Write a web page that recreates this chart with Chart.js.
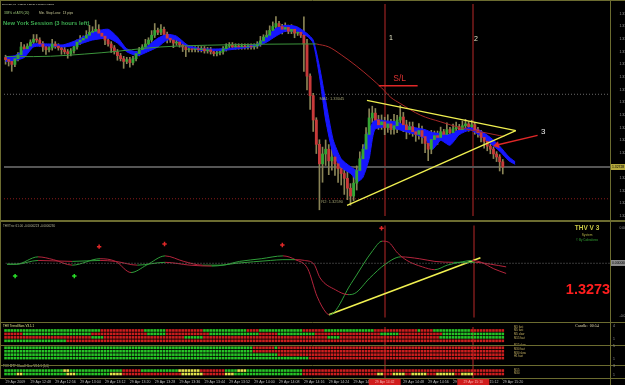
<!DOCTYPE html>
<html lang="en">
<head>
<meta charset="utf-8">
<title>EURUSD M1 - THV V3</title>
<script src="https://cdn.jsdelivr.net/npm/chart.js@4.4.1/dist/chart.umd.min.js"></script>
<style>
  html, body { margin: 0; padding: 0; background: #000; }
  #screen { position: relative; width: 625px; height: 385px; overflow: hidden; background: #000; }
  #screen canvas { position: absolute; left: 0; }
  #mainChart { top: 0; }
  #oscChart { top: 220px; }
  #heatChart { top: 323px; }
</style>
</head>
<body>
<div id="screen">
  <canvas id="mainChart" width="625" height="220"></canvas>
  <canvas id="oscChart" width="625" height="103"></canvas>
  <canvas id="heatChart" width="625" height="62"></canvas>
</div>
<script>
// ===== price data: EURUSD M1, 29 Apr 2009 12:40 - 15:20 (one value per candle) =====
const firstOpen = 1.33205;
const closes = [
  1.33196, 1.33188, 1.33175, 1.33200, 1.33217, 1.33251, 1.33243, 1.33255, 1.33272, 1.33285,
  1.33281, 1.33264, 1.33251, 1.33239, 1.33247, 1.33264, 1.33255, 1.33247, 1.33239, 1.33230,
  1.33222, 1.33234, 1.33251, 1.33272, 1.33281, 1.33289, 1.33302, 1.33315, 1.33319, 1.33328,
  1.33311, 1.33298, 1.33281, 1.33264, 1.33247, 1.33230, 1.33213, 1.33200, 1.33188, 1.33196,
  1.33183, 1.33200, 1.33222, 1.33239, 1.33251, 1.33264, 1.33281, 1.33302, 1.33323, 1.33315,
  1.33328, 1.33306, 1.33289, 1.33281, 1.33268, 1.33272, 1.33260, 1.33251, 1.33239, 1.33243,
  1.33239, 1.33243, 1.33239, 1.33243, 1.33234, 1.33239, 1.33230, 1.33222, 1.33226, 1.33230,
  1.33243, 1.33255, 1.33260, 1.33251, 1.33255, 1.33251, 1.33255, 1.33251, 1.33255, 1.33251,
  1.33255, 1.33264, 1.33277, 1.33294, 1.33302, 1.33323, 1.33340, 1.33353, 1.33340, 1.33328,
  1.33336, 1.33319, 1.33328, 1.33311, 1.33315, 1.33302, 1.33264, 1.33124, 1.33039, 1.32933,
  1.32827, 1.32742, 1.32785, 1.32806, 1.32755, 1.32772, 1.32742, 1.32721, 1.32700, 1.32679,
  1.32636, 1.32602, 1.32658, 1.32713, 1.32764, 1.32806, 1.32870, 1.32942, 1.32963, 1.32933,
  1.32912, 1.32925, 1.32899, 1.32916, 1.32891, 1.32908, 1.32933, 1.32946, 1.32912, 1.32891,
  1.32904, 1.32882, 1.32870, 1.32887, 1.32861, 1.32831, 1.32806, 1.32848, 1.32865, 1.32857,
  1.32882, 1.32870, 1.32891, 1.32878, 1.32895, 1.32904, 1.32891, 1.32908, 1.32916, 1.32904,
  1.32912, 1.32891, 1.32878, 1.32857, 1.32840, 1.32819, 1.32806, 1.32785, 1.32772, 1.32751,
  1.32728
];
// wick length beyond the body, in pips
const wickUp = [
  1,1,1,1,1,2,1,1,1,2, 2,1,1,1,1,2,1,1,1,1, 1,1,2,1,2,1,2,3,2,4, 2,1,1,1,1,1,1,1,1,1,
  1,1,1,1,1,2,1,2,3,1, 2,1,1,1,1,1,1,1,1,1, 1,1,1,1,1,1,1,1,1,1, 1,1,1,1,1,1,1,1,1,1,
  1,1,2,1,2,2,2,3,1,1, 2,1,2,1,1,1,8,2,1,1, 1,2,3,4,2,6,3,2,3,2, 3,2,3,2,3,2,3,4,3,2,
  2,3,2,4,2,5,2,5,2,2, 2,2,1,3,2,1,2,4,2,2, 2,1,3,1,2,2,1,2,2,1, 2,1,1,1,1,1,1,1,1,1,
  1
];
const wickDn = [
  2,2,3,1,1,1,1,1,1,1, 1,1,2,2,1,1,1,1,2,1, 2,1,1,1,1,1,1,1,1,1, 1,1,2,1,2,1,2,1,3,1,
  2,1,1,1,1,1,1,1,1,1, 1,1,2,1,2,1,1,2,3,1, 1,1,1,1,1,1,1,1,1,1, 1,1,1,1,1,1,1,1,1,1,
  1,1,1,1,1,1,1,1,1,2, 1,1,1,2,1,1,12,6,6,5, 4,20,8,5,6,4,5,6,5,7, 5,4,2,3,2,2,2,2,2,3,
  2,2,3,2,2,2,3,2,3,4, 2,2,3,2,3,4,5,2,2,3, 1,2,1,2,1,1,2,1,1,2, 1,2,2,2,3,2,2,2,2,4,
  3
];
const PIP = 0.0001;

const priceTicks = [1.33395, 1.33340, 1.33285, 1.33230, 1.33175, 1.33120, 1.33065, 1.33010,
  1.32955, 1.32900, 1.32845, 1.32790, 1.32680, 1.32625, 1.32570, 1.32515];
const maLevel = 1.33045;
const s2Level = 1.32590;
const bidPrice = 1.32728;

// blue cloud (two edges), read at candle index positions
const cloudIdx = [0, 3, 6, 9, 14, 18.5, 23, 28, 33, 36, 39, 42.5, 45.7, 49, 52, 55, 58.5, 63, 70, 76,
  81, 84, 87, 90, 93.6, 97, 99, 101, 103, 105.4, 108, 111, 113.4, 115, 117, 118.8, 122.4, 125.6, 128.8, 132,
  135, 137.4, 140, 143, 146, 149.5, 152.7, 156, 159, 162, 164];
const cloudTop = [1.33209, 1.33213, 1.33239, 1.33264, 1.33264, 1.33260, 1.33281, 1.33315, 1.33328, 1.33294,
  1.33243, 1.33230, 1.33255, 1.33289, 1.33306, 1.33298, 1.33260, 1.33243, 1.33243, 1.33251,
  1.33264, 1.33298, 1.33332, 1.33345, 1.33340, 1.33310, 1.33281, 1.33167, 1.33018, 1.32848,
  1.32764, 1.32730, 1.32713, 1.32798, 1.32891, 1.32933, 1.32929, 1.32925, 1.32908, 1.32899,
  1.32891, 1.32878, 1.32874, 1.32870, 1.32891, 1.32899, 1.32887, 1.32857, 1.32819, 1.32772, 1.32751];
const cloudBot = [1.33188, 1.33192, 1.33205, 1.33251, 1.33255, 1.33251, 1.33260, 1.33281, 1.33289, 1.33268,
  1.33230, 1.33213, 1.33230, 1.33251, 1.33281, 1.33281, 1.33251, 1.33236, 1.33236, 1.33245,
  1.33255, 1.33272, 1.33298, 1.33319, 1.33319, 1.33298, 1.33268, 1.33124, 1.32933, 1.32785,
  1.32726, 1.32700, 1.32666, 1.32683, 1.32764, 1.32891, 1.32904, 1.32895, 1.32882, 1.32870,
  1.32852, 1.32806, 1.32844, 1.32823, 1.32869, 1.32889, 1.32865, 1.32831, 1.32797, 1.32755, 1.32740];

// slow moving average: rising part (green) and falling part (red)
const maUpIdx = [0, 9, 31, 50, 70, 95, 100];
const maUp = [1.33209, 1.33209, 1.33226, 1.33251, 1.33260, 1.33264, 1.33264];
const maDownIdx = [100, 104, 108, 113, 117.6, 121, 124, 127, 133.5, 140, 146.4, 152.7, 159, 160.5];
const maDown = [1.33264, 1.33251, 1.33217, 1.33167, 1.33115, 1.33073, 1.33031, 1.33005, 1.32954,
  1.32925, 1.32899, 1.32882, 1.32865, 1.32861];

// hand drawn objects: [candle index, price]
const triUpper = [[116.3, 1.33018], [164.2, 1.32887]];
const triLower = [[109.9, 1.32561], [164.2, 1.32887]];
const slLine = [[120.1, 1.33082], [132.6, 1.33082]];
const arrow3 = [[171.2, 1.32866], [158.1, 1.32824]];
const vLineIdx = [122, 150.5];
const vLineTimes = ['29 Apr 14:42', '29 Apr 15:10'];

// THV Trix oscillator
const fastIdx = [0, 3, 10, 15, 21, 30, 35, 40, 45, 51, 57, 63, 69, 75, 82, 89, 93, 97, 100, 103,
  104, 111, 118, 121, 123, 126, 129, 134, 138, 142, 146, 150, 153, 157, 161];
const fastVal = [-0.000006, -0.000006, 0.000041, 0.000023, -0.000012, 0.000029, 0.000012, -0.000059, -0.000012, 0.000047,
  0.000012, -0.000012, -0.000012, 0.000012, 0.000029, 0.000047, 0.000023, -0.000035, -0.000211, -0.000317,
  -0.000329, -0.000129, 0.000082, 0.000141, 0.000135, 0.000065, 0.000018, -0.000023, -0.000041, -0.000012,
  0.000006, 0.000018, 0.000006, -0.000035, -0.000065];
const slowIdx = [0, 3, 10, 21, 30, 35, 42, 51, 59, 66, 74, 85, 89, 93, 96, 99, 101, 106, 110, 112,
  117, 122, 127, 133, 138, 144, 151, 156, 161];
const slowVal = [-0.000006, -0.000006, 0.000018, 0.000012, 0.000018, 0.000012, -0.000012, 0.000006, -0.000012, -0.000018,
  0, 0.000018, 0.000023, 0.000023, 0.000018, -0.000006, -0.000094, -0.00017, -0.0002, -0.000194,
  -0.000094, -0.000006, 0.000041, 0.000029, 0.000012, 0.000006, 0.000006, -0.000006, -0.000023];
const sellIdx = [29.7, 50.8, 88.8, 120.8];
const sellVal = [0.000106, 0.000123, 0.000117, 0.000223];
const buyIdx = [2.6, 21.7];
const buyVal = [-0.000082, -0.000082];
const oscTrend = [[103.8, -0.000329], [152.7, 0.000035]];
const oscTicks = [0.000223, -0.000335];

// MTF trend bars, run-length per row: g = up, r = down, y = flat
const heatRows = [
  [['g', 31], ['r', 14], ['g', 7], ['r', 12], ['g', 14], ['r', 4], ['g', 14], ['r', 7], ['g', 16], ['r', 14], ['g', 1], ['r', 4], ['g', 12], ['r', 11]],
  [['r', 6], ['g', 22], ['r', 18], ['g', 6], ['r', 14], ['g', 16], ['r', 6], ['g', 12], ['r', 21], ['g', 6], ['r', 14], ['g', 20]],
  [['r', 28], ['g', 4], ['r', 26], ['g', 6], ['r', 40], ['g', 4], ['r', 32], ['g', 21]],
  [['g', 20], ['r', 141]],
  [['g', 80], ['r', 7], ['g', 1], ['r', 73]],
  [['g', 80], ['r', 81]],
  [['g', 88], ['r', 73]],
  [['g', 98], ['r', 63]],
  [['g', 19], ['y', 2], ['g', 17], ['r', 6], ['g', 12], ['y', 7], ['r', 8], ['g', 4], ['y', 3], ['g', 18], ['r', 65]],
  [['g', 4], ['y', 2], ['g', 14], ['y', 3], ['g', 11], ['y', 4], ['r', 19], ['y', 7], ['r', 7], ['y', 3], ['g', 22],
   ['r', 24], ['y', 2], ['r', 3], ['y', 4], ['r', 2], ['y', 5], ['r', 3], ['y', 6], ['r', 2], ['y', 4], ['r', 10]]
];
const heatLabels = ['M1 fast', 'M5 fast', 'M5 slow', 'M15 fast', 'M15 slow', 'M30 fast', 'M30 slow', 'H1 fast', 'M15', 'M30'];

const timeLabels = ['29 Apr 2009', '29 Apr 12:48', '29 Apr 12:56', '29 Apr 13:04', '29 Apr 13:12', '29 Apr 13:20',
  '29 Apr 13:28', '29 Apr 13:36', '29 Apr 13:44', '29 Apr 13:52', '29 Apr 14:00', '29 Apr 14:08', '29 Apr 14:16',
  '29 Apr 14:24', '29 Apr 14:32', '29 Apr 14:40', '29 Apr 14:48', '29 Apr 14:56', '29 Apr 15:04', '29 Apr 15:12',
  '29 Apr 15:20'];

// ===== styles =====
const FONT = "'Liberation Sans', Arial, sans-serif";
const COL = {
  olive: '#6c6c30', bull: '#34a534', bear: '#c83a3a', wick: '#8a8456',
  cloud: '#1616ff', maUp: '#3c963c', maDown: '#a82828',
  oscUp: '#2f9e3a', oscDown: '#b4243c', yellow: '#f0f050', vline: '#5c1414'
};
const heatColors = { g: '#26c426', r: '#cc1e1e', y: '#e4e44c' };
const X_MIN = -0.5, X_MAX = 194.5;

Chart.defaults.font.family = FONT;

// ===== helpers =====
const pts = (xs, ys) => xs.map((x, i) => ({ x, y: ys[i] }));
const pairs = arr => arr.map(([x, y]) => ({ x, y }));
const flat = v => [{ x: X_MIN, y: v }, { x: X_MAX, y: v }];
const expand = rle => rle.flatMap(([k, n]) => Array(n).fill(k));

function strokeLine(ctx, x1, y1, x2, y2) {
  ctx.beginPath(); ctx.moveTo(x1, y1); ctx.lineTo(x2, y2); ctx.stroke();
}

function rightAxis(min, max, ticks, fmt) {
  return {
    type: 'linear', position: 'right', min, max,
    afterBuildTicks: s => { s.ticks = ticks.map(v => ({ value: v })); },
    afterFit: s => { s.width = 15; s.paddingTop = 0; s.paddingBottom = 0; },
    ticks: { font: { size: 3.4 }, color: '#9c9c9c', padding: 1.5, autoSkip: false, callback: fmt },
    grid: { display: false },
    border: { display: false }
  };
}

// バーチャートでも両端に余白を入れない
const hiddenX = { type: 'linear', min: X_MIN, max: X_MAX, offset: false, display: false };

// 縦線 (1, 2)
const vLinePlugin = {
  id: 'vlines',
  beforeDatasetsDraw(chart) {
    const { ctx, chartArea: a, scales: { x } } = chart;
    ctx.save();
    ctx.strokeStyle = COL.vline;
    ctx.lineWidth = 2;
    vLineIdx.forEach(v => {
      const px = Math.round(x.getPixelForValue(v));
      strokeLine(ctx, px, a.top, px, a.bottom);
    });
    ctx.restore();
  }
};

// テキスト描画
function notes(items) {
  return {
    id: 'notes',
    afterDatasetsDraw(chart) {
      const { ctx, scales } = chart;
      ctx.save();
      ctx.textBaseline = 'middle';
      items.forEach(n => {
        const px = n.onData ? scales.x.getPixelForValue(n.x) : n.x;
        const py = n.onData ? scales.y.getPixelForValue(n.y) : n.y;
        ctx.font = (n.bold ? 'bold ' : '') + n.size + 'px ' + (n.family || FONT);
        ctx.fillStyle = n.color;
        ctx.textAlign = n.align || 'left';
        ctx.fillText(n.text, px, py);
      });
      ctx.restore();
    }
  };
}

// ===== main price panel =====
const opens = closes.map((c, i) => (i === 0 ? firstOpen : closes[i - 1]));
const bodies = closes.map((c, i) => ({ x: i, y: [opens[i], c] }));
const wicks = closes.map((c, i) => ({
  x: i,
  y: [Math.min(opens[i], c) - wickDn[i] * PIP, Math.max(opens[i], c) + wickUp[i] * PIP]
}));
const bodyColors = closes.map((c, i) => (c >= opens[i] ? COL.bull : COL.bear));

const mainDecor = {
  id: 'mainDecor',
  afterDraw(chart) {
    const { ctx, chartArea: a, scales: { y } } = chart;
    ctx.save();
    ctx.strokeStyle = COL.olive;
    ctx.lineWidth = 1;
    strokeLine(ctx, 0, 0.5, chart.width, 0.5);
    strokeLine(ctx, 0.5, 0, 0.5, chart.height);
    strokeLine(ctx, a.right + 0.5, 0, a.right + 0.5, chart.height);
    // 現在値ラベル
    const py = Math.round(y.getPixelForValue(bidPrice));
    ctx.fillStyle = '#b4a83c';
    ctx.fillRect(a.right + 1, py - 3, 14, 6);
    ctx.fillStyle = '#000';
    ctx.font = '3.4px ' + FONT;
    ctx.textBaseline = 'middle';
    ctx.fillText(bidPrice.toFixed(5), a.right + 2, py);
    ctx.restore();
  }
};

const mainNotes = [
  { text: 'EURUSD,M1  1.32737 1.32737 1.32728 1.32728', x: 2, y: 4, size: 2.4, color: '#c8c8b4' },
  { text: '338% of ATR (20)', x: 4, y: 13, size: 3.2, color: '#9cc878' },
  { text: 'Min. Stop Loss:  13 pips', x: 39, y: 13, size: 3.2, color: '#c8c896' },
  { text: 'New York Session (3 hours left)', x: 3, y: 23, size: 5.8, bold: true, color: '#3caa50' },
  { text: 'MA1: 1.33045', onData: true, x: 101, y: 1.33027, size: 4, color: '#a0a070' },
  { text: 'R2: 1.32590', onData: true, x: 101.6, y: 1.32575, size: 4, color: '#a0a070' },
  { text: '1', onData: true, x: 124, y: 1.33289, size: 7, color: '#e6e6c8', align: 'center' },
  { text: '2', onData: true, x: 151.4, y: 1.33285, size: 7, color: '#e6e6c8', align: 'center' },
  { text: '3', onData: true, x: 173, y: 1.32880, size: 8, color: '#f0f0f0', align: 'center' },
  { text: 'S/L', onData: true, x: 126.8, y: 1.33115, size: 8.5, color: '#dc3232', align: 'center' }
];

new Chart(document.getElementById('mainChart'), {
  type: 'bar',
  data: {
    datasets: [
      { type: 'line', data: flat(maLevel), borderColor: '#6a6a6a', borderWidth: 1, borderDash: [1, 2], pointRadius: 0, order: 20 },
      { type: 'line', data: flat(s2Level), borderColor: '#8a1c1c', borderWidth: 1, borderDash: [1, 2], pointRadius: 0, order: 20 },
      { type: 'line', data: flat(bidPrice), borderColor: '#555555', borderWidth: 2, pointRadius: 0, order: 20 },
      { data: wicks, backgroundColor: COL.wick, barThickness: 1, grouped: false, order: 15 },
      { type: 'line', data: pts(cloudIdx, cloudTop), borderColor: COL.cloud, borderWidth: 1, pointRadius: 0,
        tension: 0.2, fill: false, order: 12 },
      { type: 'line', data: pts(cloudIdx, cloudBot), borderColor: COL.cloud, backgroundColor: COL.cloud, borderWidth: 1,
        pointRadius: 0, tension: 0.2, fill: '-1', order: 12 },
      { data: bodies, backgroundColor: bodyColors, barThickness: 2.2, minBarLength: 1, grouped: false, order: 10 },
      { type: 'line', data: pts(maUpIdx, maUp), borderColor: COL.maUp, borderWidth: 1, pointRadius: 0,
        cubicInterpolationMode: 'monotone', order: 8 },
      { type: 'line', data: pts(maDownIdx, maDown), borderColor: COL.maDown, borderWidth: 1, pointRadius: 0,
        cubicInterpolationMode: 'monotone', order: 8 },
      { type: 'line', data: pairs(triUpper), borderColor: COL.yellow, borderWidth: 1.3, pointRadius: 0, order: 5 },
      { type: 'line', data: pairs(triLower), borderColor: COL.yellow, borderWidth: 1.3, pointRadius: 0, order: 5 },
      { type: 'line', data: pairs(slLine), borderColor: '#e02828', borderWidth: 1.5, pointRadius: 0, order: 5 },
      { type: 'line', data: pairs(arrow3), borderColor: '#e02828', backgroundColor: '#e02828', borderWidth: 1.5,
        pointStyle: 'triangle', pointRadius: [0, 4], pointBorderWidth: 0, pointRotation: [0, 256], order: 4 }
    ]
  },
  options: {
    responsive: false,
    animation: false,
    events: [],
    layout: { padding: { top: 1, bottom: 1, left: 0, right: 0 } },
    scales: {
      x: hiddenX,
      y: rightAxis(1.32515, 1.33438, priceTicks, v => v.toFixed(5))
    },
    plugins: { legend: { display: false }, tooltip: { enabled: false } }
  },
  plugins: [vLinePlugin, notes(mainNotes), mainDecor]
});

// ===== oscillator panel =====
const slopeColor = c => (c.p1.parsed.y >= c.p0.parsed.y ? COL.oscUp : COL.oscDown);

const oscDecor = {
  id: 'oscDecor',
  afterDraw(chart) {
    const { ctx, chartArea: a, scales: { y } } = chart;
    ctx.save();
    ctx.strokeStyle = COL.olive;
    ctx.lineWidth = 2;
    strokeLine(ctx, 0, 1, chart.width, 1);
    ctx.lineWidth = 1;
    strokeLine(ctx, 0, chart.height - 0.5, chart.width, chart.height - 0.5);
    strokeLine(ctx, 0.5, 0, 0.5, chart.height);
    strokeLine(ctx, a.right + 0.5, 0, a.right + 0.5, chart.height);
    const py = Math.round(y.getPixelForValue(0));
    ctx.fillStyle = '#8c8c8c';
    ctx.fillRect(a.right + 1, py - 3, 14, 6);
    ctx.fillStyle = '#000';
    ctx.font = '3.4px ' + FONT;
    ctx.textBaseline = 'middle';
    ctx.fillText('0.000000', a.right + 2, py);
    ctx.restore();
  }
};

const oscNotes = [
  { text: 'THVTrix: 61.00 -0.0000223 -0.0000230', x: 3, y: 6, size: 3, color: '#b4b496' },
  { text: 'THV V 3', x: 587, y: 8, size: 6.5, bold: true, color: '#c8c846', align: 'center' },
  { text: 'System', x: 587, y: 15.5, size: 3.2, color: '#b4b446', align: 'center' },
  { text: '\u00a9 By Cobraforex', x: 587, y: 20.5, size: 3, color: '#32a032', align: 'center' },
  { text: '1.3273', x: 588, y: 70, size: 14.5, bold: true, color: '#ff1e1e', align: 'center' }
];

new Chart(document.getElementById('oscChart'), {
  type: 'line',
  data: {
    datasets: [
      { data: flat(0), borderColor: '#707070', borderWidth: 1, borderDash: [1, 2], pointRadius: 0 },
      { data: pts(slowIdx, slowVal), borderColor: COL.oscDown, borderWidth: 1, pointRadius: 0,
        cubicInterpolationMode: 'monotone', segment: { borderColor: slopeColor } },
      { data: pts(fastIdx, fastVal), borderColor: COL.oscDown, borderWidth: 1, pointRadius: 0,
        cubicInterpolationMode: 'monotone', segment: { borderColor: slopeColor } },
      { data: pairs(oscTrend), borderColor: COL.yellow, borderWidth: 1.6, pointRadius: 0 },
      { data: pts(sellIdx, sellVal), showLine: false, pointStyle: 'cross', pointRadius: 2.2,
        pointBorderWidth: 1.5, borderColor: '#e02828' },
      { data: pts(buyIdx, buyVal), showLine: false, pointStyle: 'cross', pointRadius: 2.2,
        pointBorderWidth: 1.5, borderColor: '#28dc28' }
    ]
  },
  options: {
    responsive: false,
    animation: false,
    events: [],
    layout: { padding: { top: 2, bottom: 1, left: 0, right: 0 } },
    scales: {
      x: hiddenX,
      y: rightAxis(-0.000346, 0.000241, oscTicks, v => v.toFixed(6))
    },
    plugins: { legend: { display: false }, tooltip: { enabled: false } }
  },
  plugins: [vLinePlugin, notes(oscNotes), oscDecor]
});

// ===== MTF trend bars + time axis =====
const heatSlots = [1, 2, 3, 4, 6, 7, 8, 9, 12.6, 13.6];
const heatSeparators = [5.35, 10.9];

const heatDecor = {
  id: 'heatDecor',
  afterDraw(chart) {
    const { ctx, chartArea: a, scales: { x, y } } = chart;
    ctx.save();
    ctx.strokeStyle = COL.olive;
    ctx.lineWidth = 1;
    heatSeparators.forEach(s => {
      const py = Math.round(y.getPixelForValue(s)) + 0.5;
      strokeLine(ctx, 0, py, chart.width, py);
    });
    strokeLine(ctx, 0, a.bottom + 0.5, chart.width, a.bottom + 0.5);
    strokeLine(ctx, 0.5, 0, 0.5, a.bottom);
    strokeLine(ctx, a.right + 0.5, 0, a.right + 0.5, chart.height);
    // 右側の小さな数字
    ctx.fillStyle = '#9c9c9c';
    ctx.font = '3.4px ' + FONT;
    ctx.textBaseline = 'middle';
    [['4', 3], ['1', 16], ['5', 23], ['1', 36], ['3', 43], ['1', 52]].forEach(([t, py]) => {
      ctx.fillText(t, a.right + 3, py);
    });
    // 縦線の時刻ラベル
    ctx.textAlign = 'center';
    vLineIdx.forEach((v, i) => {
      const px = x.getPixelForValue(v);
      ctx.fillStyle = '#d01c1c';
      ctx.fillRect(px - 16, a.bottom + 1, 32, 6);
      ctx.fillStyle = '#f4b4b4';
      ctx.fillText(vLineTimes[i], px, a.bottom + 4);
    });
    ctx.restore();
  }
};

const heatNotes = [
  { text: 'Candle:  00:54', x: 587, y: 2.8, size: 4, color: '#e6dcb4', align: 'center', family: "'Liberation Serif', serif" },
  { text: 'THV Trend Bars V3.1.1', x: 3, y: 3.5, size: 3, color: '#e6e68c' },
  { text: 'THV MTF Cloud Hline V3.1.1 (5,6)', x: 3, y: 43.5, size: 3, color: '#c8c8a0' }
].concat(heatLabels.map((t, r) => ({
  text: t, x: 514, y: 3.729 * heatSlots[r], size: 2.8, color: '#c8b464'
})));

new Chart(document.getElementById('heatChart'), {
  type: 'scatter',
  data: {
    datasets: heatRows.map((rle, r) => {
      const keys = expand(rle);
      return {
        data: keys.map((k, i) => ({ x: i, y: heatSlots[r] })),
        pointStyle: 'rect',
        pointRadius: 1.85,
        pointBorderWidth: 0,
        pointBackgroundColor: keys.map(k => heatColors[k])
      };
    })
  },
  options: {
    responsive: false,
    animation: false,
    events: [],
    layout: { padding: 0 },
    scales: {
      x: {
        type: 'linear', min: X_MIN, max: X_MAX, offset: false, position: 'bottom',
        afterBuildTicks: s => { s.ticks = timeLabels.map((_, k) => ({ value: k * 8 })); },
        afterFit: s => { s.height = 7; s.paddingLeft = 0; s.paddingRight = 0; },
        ticks: { align: 'start', autoSkip: false, maxRotation: 0, font: { size: 3.6 }, color: '#bdbdbd',
          padding: 0.5, callback: (v, i) => timeLabels[i] },
        grid: { drawOnChartArea: false, color: COL.olive, tickLength: 1.5 },
        border: { display: false }
      },
      y: {
        type: 'linear', min: 0, max: 14.75, reverse: true, position: 'right',
        ticks: { display: false }, grid: { display: false }, border: { display: false },
        afterFit: s => { s.width = 15; }
      }
    },
    plugins: { legend: { display: false }, tooltip: { enabled: false } }
  },
  plugins: [vLinePlugin, notes(heatNotes), heatDecor]
});
</script>
</body>
</html>
